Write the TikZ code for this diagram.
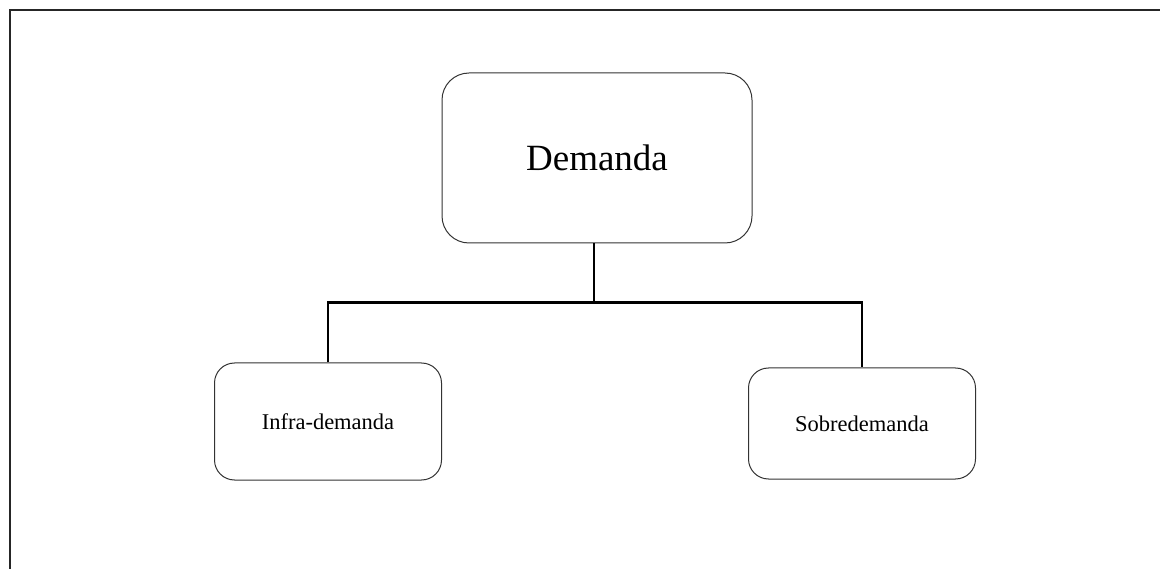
\documentclass[tikz,border=0pt]{standalone}
\usepackage{fontspec}
\setmainfont{Liberation Serif}
\begin{document}
\begin{tikzpicture}[x=1pt,y=-1pt,
  box/.style={draw=black!80, line width=1pt, rounded corners=#1, inner sep=0pt, align=center},
  box/.default=20pt,
  link/.style={draw=black, line width=2.6pt},
  frame/.style={draw=black!85, line width=2pt}]
  \useasboundingbox (0,0) rectangle (1160,569);
  % page frame (top and left edges)
  \coordinate (fl) at (10,569);
  \coordinate (fc) at (10,10);
  \coordinate (fr) at (1160,10);
  \draw[frame] (fl) -- (fc) -- (fr);
  % boxes
  \node[box=27pt, minimum width=310pt, minimum height=170pt, font=\fontsize{37}{44}\selectfont] (dem) at (597,158) {Demanda};
  \node[box, minimum width=227pt, minimum height=117pt, font=\fontsize{22.5}{27}\selectfont] (infra) at (328,421.5) {Infra-demanda};
  \node[box, minimum width=227pt, minimum height=111pt, font=\fontsize{22.5}{27}\selectfont] (sobre) at (862,423.5) {Sobredemanda};
  % tree connectors
  \coordinate (bus) at (594,302.7);
  \draw[link] ([xshift=-3pt]dem.south) -- (bus);
  \draw[link, line join=miter] (infra.north) |- (bus) -| (sobre.north);
\end{tikzpicture}
\end{document}
